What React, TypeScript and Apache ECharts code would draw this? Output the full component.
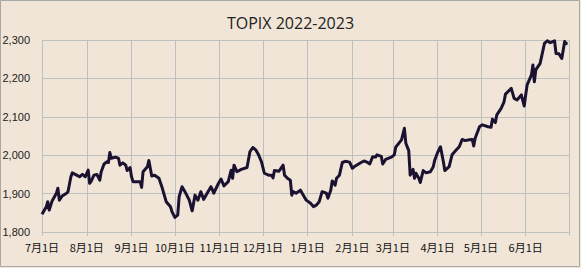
import React, { useEffect, useRef } from "react";
import * as echarts from "echarts";

const titleText = "TOPIX 2022-2023";

const dates: string[] = [
  "2022-07-01","2022-07-04","2022-07-05","2022-07-06","2022-07-08","2022-07-11","2022-07-12","2022-07-13","2022-07-15","2022-07-18",
  "2022-07-19","2022-07-21","2022-07-22","2022-07-25","2022-07-27","2022-07-29","2022-07-31",
  "2022-08-02","2022-08-03","2022-08-04","2022-08-06","2022-08-08","2022-08-10","2022-08-11","2022-08-13","2022-08-15","2022-08-16",
  "2022-08-17","2022-08-18","2022-08-21","2022-08-23","2022-08-24","2022-08-26","2022-08-28","2022-08-29","2022-08-31",
  "2022-09-01","2022-09-02","2022-09-04","2022-09-07","2022-09-08","2022-09-09","2022-09-12","2022-09-13","2022-09-15","2022-09-17",
  "2022-09-20","2022-09-22","2022-09-25","2022-09-28","2022-09-29",
  "2022-10-01","2022-10-03","2022-10-04","2022-10-06","2022-10-08","2022-10-11","2022-10-13","2022-10-15","2022-10-17","2022-10-19",
  "2022-10-21","2022-10-24","2022-10-26","2022-10-28","2022-10-31",
  "2022-11-02","2022-11-04","2022-11-07","2022-11-09","2022-11-10","2022-11-11","2022-11-13","2022-11-16","2022-11-20","2022-11-22",
  "2022-11-24","2022-11-26","2022-11-28","2022-11-30",
  "2022-12-02","2022-12-05","2022-12-07","2022-12-08","2022-12-09","2022-12-12","2022-12-13","2022-12-15","2022-12-16","2022-12-18",
  "2022-12-20","2022-12-21","2022-12-22","2022-12-24","2022-12-27","2022-12-29","2022-12-31",
  "2023-01-03","2023-01-05","2023-01-07","2023-01-09","2023-01-11","2023-01-14","2023-01-15","2023-01-17","2023-01-18","2023-01-20",
  "2023-01-21","2023-01-23","2023-01-25","2023-01-27","2023-01-30",
  "2023-02-01","2023-02-03","2023-02-07","2023-02-09","2023-02-11","2023-02-13","2023-02-15","2023-02-17","2023-02-18","2023-02-21",
  "2023-02-22","2023-02-24","2023-02-28",
  "2023-03-02","2023-03-03","2023-03-07","2023-03-09","2023-03-10","2023-03-12","2023-03-13","2023-03-15","2023-03-16","2023-03-17",
  "2023-03-19","2023-03-20","2023-03-22","2023-03-24","2023-03-27","2023-03-29","2023-03-30",
  "2023-04-01","2023-04-03","2023-04-05","2023-04-06","2023-04-09","2023-04-11","2023-04-14","2023-04-16","2023-04-18","2023-04-20",
  "2023-04-23","2023-04-25","2023-04-26","2023-04-27","2023-04-30",
  "2023-05-02","2023-05-06","2023-05-08","2023-05-09","2023-05-11","2023-05-12","2023-05-15","2023-05-17","2023-05-18","2023-05-21",
  "2023-05-22","2023-05-24","2023-05-26","2023-05-29","2023-05-31",
  "2023-06-01","2023-06-02","2023-06-05","2023-06-06","2023-06-07","2023-06-08","2023-06-11","2023-06-14","2023-06-16","2023-06-18",
  "2023-06-21","2023-06-22","2023-06-24","2023-06-26","2023-06-28","2023-06-29","2023-06-30",
];

const values: number[] = [
  1846,1866,1879,1857,1881,1901,1914,1883,1894,1901,
  1905,1944,1954,1948,1944,1950,1944,
  1961,1927,1932,1948,1950,1935,1957,1977,1983,1981,
  2007,1992,1995,1992,1974,1980,1974,1960,1968,
  1944,1931,1931,1931,1916,1957,1970,1986,1946,1948,
  1940,1918,1879,1866,1853,
  1838,1844,1892,1918,1905,1883,1855,1896,1883,1905,
  1885,1905,1918,1901,1925,
  1938,1920,1931,1961,1940,1974,1957,1963,1968,2009,
  2020,2014,2001,1983,
  1953,1948,1948,1941,1960,1958,1963,1974,1948,1940,
  1935,1896,1905,1901,1909,1896,1883,
  1875,1866,1870,1879,1905,1901,1888,1909,1933,1922,
  1940,1948,1981,1984,1982,
  1966,1972,1981,1985,1982,1977,1996,1995,2001,1997,
  1977,1989,1995,
  2001,2021,2040,2070,2031,2012,1948,1963,1940,1953,
  1940,1929,1960,1954,1957,1970,1987,
  2007,2022,1983,1960,1970,2001,2014,2022,2041,2038,
  2040,2041,2024,2044,2074,
  2079,2074,2073,2094,2085,2105,2122,2139,2159,2170,
  2174,2148,2144,2157,2128,
  2157,2183,2209,2235,2191,2222,2239,2291,2298,2293,
  2298,2265,2264,2252,2296,2291,2290,
];

const xMin = "2022-07-01";
const xMax = "2023-07-01";
const yMin = 1800;
const yMax = 2300;
const yStep = 100;

export default function App() {
  const ref = useRef<HTMLDivElement>(null);
  useEffect(() => {
    if (!ref.current) return;
    const chart = echarts.init(ref.current, null, { renderer: "svg" });
    const grid = "#bcc0bf";
    const maxTime = new Date(2023, 6, 1).getTime();
    chart.setOption({
      animation: false,
      backgroundColor: "#f0e5d7",
      title: {
        text: titleText,
        left: "center",
        top: 10,
        textStyle: { fontFamily: "Open Sans", fontSize: 16, fontWeight: "normal", color: "#222" },
      },
      graphic: [
        {
          type: "rect",
          shape: { x: 0.5, y: 0.5, width: 579, height: 266 },
          style: { fill: "none", stroke: "#a8a8a8", lineWidth: 1 },
          silent: true,
        },
      ],
      grid: { left: 42, right: 12, top: 40, bottom: 36, containLabel: false, outerBoundsMode: "none" },
      xAxis: {
        type: "time",
        min: xMin,
        max: xMax,
        splitNumber: 12,
        minInterval: 28 * 86400000,
        maxInterval: 31 * 86400000,
        axisLine: { show: true, lineStyle: { color: grid, width: 1 } },
        axisTick: { show: true, length: 4, lineStyle: { color: grid } },
        splitLine: { show: true, lineStyle: { color: grid, width: 1 } },
        axisLabel: {
          formatter: (v: number) => {
            if (v >= maxTime - 3600000) return "";
            const d = new Date(v);
            return `${d.getMonth() + 1}月${d.getDate()}日`;
          },
          hideOverlap: false,
          margin: 9,
          fontFamily: "Noto Sans CJK JP",
          fontSize: 11,
          color: "#111",
          fontWeight: "normal",
        },
      },
      yAxis: {
        type: "value",
        min: yMin,
        max: yMax,
        interval: yStep,
        axisLine: { show: false },
        axisTick: { show: false },
        splitLine: { show: true, lineStyle: { color: grid, width: 1 } },
        axisLabel: {
          formatter: (v: number) => v.toLocaleString("en-US"),
          fontFamily: "Liberation Sans",
          fontSize: 11,
          color: "#222",
          margin: 12,
        },
      },
      series: [
        {
          type: "line",
          data: dates.map((d, i) => [d, values[i]]),
          showSymbol: false,
          symbol: "none",
          lineStyle: { color: "#1a1230", width: 3, join: "round" },
          clip: false,
        },
      ],
    });
    return () => chart.dispose();
  }, []);
  return (
    <div
      ref={ref}
      style={{ position: "fixed", left: 0, top: 0, width: 581, height: 268 }}
    />
  );
}
